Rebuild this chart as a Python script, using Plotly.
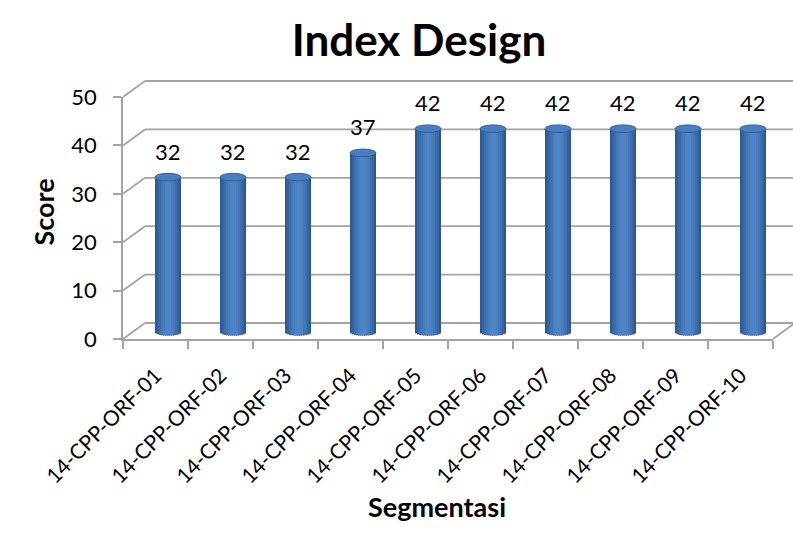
import math
import plotly.graph_objects as go

# ---- data -------------------------------------------------------------
segments = [
    "14-CPP-ORF-01", "14-CPP-ORF-02", "14-CPP-ORF-03", "14-CPP-ORF-04",
    "14-CPP-ORF-05", "14-CPP-ORF-06", "14-CPP-ORF-07", "14-CPP-ORF-08",
    "14-CPP-ORF-09", "14-CPP-ORF-10",
]
scores = [32, 32, 32, 37, 42, 42, 42, 42, 42, 42]
y_ticks = [0, 10, 20, 30, 40, 50]

# ---- geometry (pixels) ------------------------------------------------
W, H = 793, 541
FX0, FX1 = 123, 773          # front plane, left / right
FY0, FY1 = 339, 97           # front plane, value 0 / value 50
YMAX = y_ticks[-1]
PPU = (FY0 - FY1) / YMAX     # pixels per score unit
CAT_W = (FX1 - FX0) / len(segments)

BAR_DX, BAR_DY = 12.5, 7     # cylinders sit a little behind the front plane
BACK_DX, BACK_DY = 22, 16    # back wall offset
BAR_PX = 26                  # cylinder diameter
CAP_PX = 3.8                 # half height of the elliptical caps

FONT = "Lato"
GRID = "#a3a3a3"

# cylinder side shading, left to right
strip_colors = [
    "#2e5a92", "#3564a0", "#3c6eac", "#4376b6", "#497dbe", "#4d82c3",
    "#4f84c6", "#4e83c4", "#4b7fc0", "#4678b9", "#3f6fae", "#37659f", "#2d578d",
]


def px_to_paper(px, py):
    return (px - FX0) / (FX1 - FX0), (FY0 - py) / (FY0 - FY1)


fig = go.Figure()

# ---- cylinders: vertical strips with a rounded bottom ----------------
bar_w = BAR_PX / CAT_W
cap_h = CAP_PX / PPU
n = len(strip_colors)
sw = bar_w / n
xs = list(range(len(segments)))
for k, col in enumerate(strip_colors):
    u = -1 + (2 * k + 1) / n
    base = -cap_h * math.sqrt(max(0.0, 1 - u * u))
    fig.add_trace(go.Bar(
        x=xs, y=[v - base for v in scores], base=base,
        offset=-bar_w / 2 + k * sw,
        width=sw * (1.0 if k == n - 1 else 1.35),
        marker=dict(color=col, line=dict(width=0)),
        xaxis="x2", yaxis="y2", hoverinfo="skip", showlegend=False,
    ))

shapes = []
# top caps
for i, v in enumerate(scores):
    shapes.append(dict(
        type="circle", xref="x2", yref="y2",
        x0=i - bar_w / 2, x1=i + bar_w / 2, y0=v - cap_h, y1=v + cap_h,
        fillcolor="#4a7ec1", line=dict(color="#355f98", width=1), layer="above",
    ))

# back wall gridlines and side-wall diagonals
for t in y_ticks:
    fy = FY0 - t * PPU
    bx, by = FX0 + BACK_DX, fy - BACK_DY
    x0, y0 = px_to_paper(FX0, fy)
    x1, y1 = px_to_paper(bx, by)
    x2, _ = px_to_paper(W + 10, by)
    shapes.append(dict(type="line", xref="paper", yref="paper", x0=x0, y0=y0,
                       x1=x1, y1=y1, line=dict(color=GRID, width=1.8), layer="below"))
    shapes.append(dict(type="line", xref="paper", yref="paper", x0=x1, y0=y1,
                       x1=x2, y1=y1, line=dict(color=GRID, width=1.8), layer="below"))
# right edge of the floor
rx0, ry0 = px_to_paper(FX1, FY0)
rx1, ry1 = px_to_paper(FX1 + BACK_DX, FY0 - BACK_DY)
shapes.append(dict(type="line", xref="paper", yref="paper", x0=rx0, y0=ry0,
                   x1=rx1, y1=ry1, line=dict(color=GRID, width=1.8), layer="below"))

# ---- value labels ----------------------------------------------------
annotations = []
for i, v in enumerate(scores):
    annotations.append(dict(
        x=i, y=v, xref="x2", yref="y2", text=str(v), showarrow=False,
        yshift=26, font=dict(family=FONT, size=22, color="black"),
    ))

# axis titles
sx, sy = px_to_paper(24, 212)
annotations.append(dict(x=sx, y=sy, xref="paper", yref="paper", text="<b>Score</b>",
                        textangle=-90, showarrow=False,
                        font=dict(family=FONT, size=27, color="black")))
gx, gy = px_to_paper(437, 525)
annotations.append(dict(x=gx, y=gy, xref="paper", yref="paper", text="<b>Segmentasi</b>",
                        showarrow=False, font=dict(family=FONT, size=27, color="black")))

# trace that owns the categorical front axis
fig.add_trace(go.Scatter(x=segments, y=[None] * len(segments), mode="markers",
                         showlegend=False, hoverinfo="skip"))

x2_range = [-BAR_DX / CAT_W - 0.5, (FX1 - FX0 - BAR_DX) / CAT_W - 0.5]
y2_range = [-BAR_DY / PPU, (FY0 - BAR_DY - FY1) / PPU]

fig.update_layout(
    width=W, height=H,
    margin=dict(l=FX0, r=W - FX1, t=FY1, b=H - FY0, pad=0),
    paper_bgcolor="white", plot_bgcolor="rgba(0,0,0,0)",
    barmode="overlay", showlegend=False,
    title=dict(text="<b>Index Design</b>", x=419 / W, xanchor="center",
               y=1 - 41 / H, yanchor="middle", yref="container",
               font=dict(family=FONT, size=44, color="black")),
    xaxis=dict(type="category", categoryorder="array", categoryarray=segments,
               range=[-0.5, len(segments) - 0.5], tickson="boundaries",
               ticks="outside", ticklen=8, tickwidth=1.8, tickcolor=GRID,
               tickangle=-45, ticklabelstandoff=14,
               showline=True, linecolor=GRID, linewidth=1.8,
               showgrid=False, zeroline=False,
               tickfont=dict(family=FONT, size=21, color="black")),
    yaxis=dict(range=[0, YMAX], tickvals=y_ticks, ticks="outside", ticklen=8,
               tickwidth=1.8, tickcolor=GRID, showline=True, linecolor=GRID,
               linewidth=1.8, showgrid=False, zeroline=False, ticklabelstandoff=12,
               tickfont=dict(family=FONT, size=22, color="black")),
    xaxis2=dict(overlaying="x", anchor="y2", range=x2_range, visible=False),
    yaxis2=dict(overlaying="y", anchor="x2", range=y2_range, visible=False),
    shapes=shapes, annotations=annotations,
)

fig.write_html("out.html")
